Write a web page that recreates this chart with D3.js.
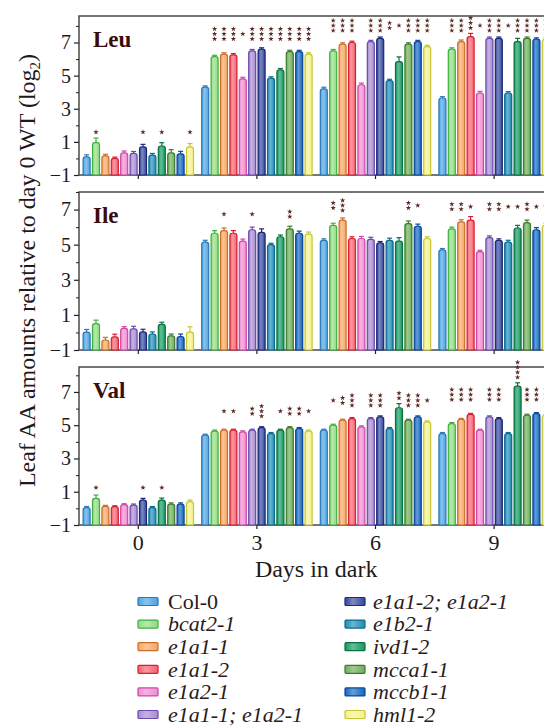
<!DOCTYPE html>
<html><head><meta charset="utf-8">
<script src="https://cdn.jsdelivr.net/npm/d3@7"></script>
<style>body{margin:0;background:#fff}svg{display:block}</style>
</head><body><svg id="c" width="544" height="728"></svg>
<script>
// ---------------- data ----------------
const days = ["0", "3", "6", "9"];
const genotypes = ["Col-0", "bcat2-1", "e1a1-1", "e1a1-2", "e1a2-1", "e1a1-1; e1a2-1",
  "e1a1-2; e1a2-1", "e1b2-1", "ivd1-2", "mcca1-1", "mccb1-1", "hml1-2"];
const yTicks = [-1, 1, 3, 5, 7];
const yMinorTicks = [0, 2, 4, 6, 8];

// values per day (rows: day 0, 3, 6, 9; columns: genotypes)
const leuValues = [
  [0.1, 0.95, 0.15, 0.0, 0.33, 0.3, 0.7, 0.2, 0.75, 0.33, 0.28, 0.7],
  [4.3, 6.15, 6.3, 6.25, 4.8, 6.5, 6.6, 4.85, 5.35, 6.45, 6.45, 6.3],
  [4.2, 6.5, 6.9, 7.0, 4.45, 7.05, 7.25, 4.7, 5.85, 6.9, 7.05, 6.75],
  [3.65, 6.6, 7.05, 7.35, 3.95, 7.25, 7.25, 3.95, 7.05, 7.25, 7.2, 7.2]
];
const leuErrors = [
  [0.12, 0.28, 0.1, 0.08, 0.12, 0.12, 0.15, 0.1, 0.2, 0.2, 0.15, 0.2],
  [0.08, 0.08, 0.08, 0.08, 0.1, 0.08, 0.08, 0.08, 0.08, 0.08, 0.08, 0.08],
  [0.1, 0.08, 0.08, 0.08, 0.1, 0.08, 0.08, 0.08, 0.28, 0.08, 0.08, 0.08],
  [0.08, 0.08, 0.1, 0.2, 0.1, 0.08, 0.08, 0.08, 0.2, 0.08, 0.08, 0.08]
];
const leuStars = [
  [0, 1, 0, 0, 0, 0, 1, 0, 1, 0, 0, 1],
  [0, 3, 3, 3, 1, 3, 3, 3, 3, 3, 3, 3],
  [0, 3, 3, 3, 0, 3, 3, 2, 1, 3, 3, 3],
  [0, 3, 3, 3, 1, 3, 3, 1, 3, 3, 3, 3]
];

const ileValues = [
  [0.02, 0.5, -0.43, -0.25, 0.23, 0.2, 0.03, -0.09, 0.46, -0.19, -0.24, 0.02],
  [5.15, 5.65, 5.8, 5.65, 5.2, 5.85, 5.7, 5.0, 5.45, 5.9, 5.65, 5.6],
  [5.25, 6.1, 6.4, 5.35, 5.35, 5.3, 5.1, 5.25, 5.2, 6.2, 6.05, 5.35],
  [4.7, 5.9, 6.3, 6.4, 4.6, 5.4, 5.25, 5.15, 5.95, 6.25, 5.85, 6.1]
];
const ileErrors = [
  [0.15, 0.2, 0.15, 0.15, 0.1, 0.15, 0.15, 0.12, 0.12, 0.1, 0.15, 0.3],
  [0.1, 0.15, 0.15, 0.15, 0.12, 0.15, 0.2, 0.08, 0.1, 0.15, 0.12, 0.12],
  [0.08, 0.12, 0.12, 0.1, 0.12, 0.12, 0.08, 0.12, 0.2, 0.15, 0.12, 0.1],
  [0.08, 0.1, 0.12, 0.2, 0.08, 0.1, 0.08, 0.1, 0.15, 0.15, 0.12, 0.12]
];
const ileStars = [
  [0, 0, 0, 0, 0, 0, 0, 0, 0, 0, 0, 0],
  [0, 0, 1, 0, 0, 1, 0, 0, 0, 2, 0, 0],
  [0, 2, 3, 0, 0, 0, 0, 0, 0, 2, 1, 0],
  [0, 2, 2, 1, 0, 2, 2, 1, 1, 2, 1, 1]
];

const valValues = [
  [0.05, 0.6, 0.12, 0.1, 0.22, 0.2, 0.5, 0.05, 0.5, 0.25, 0.25, 0.4],
  [4.4, 4.65, 4.7, 4.7, 4.6, 4.7, 4.85, 4.5, 4.7, 4.85, 4.8, 4.65],
  [4.7, 5.0, 5.3, 5.4, 4.9, 5.4, 5.5, 4.8, 6.05, 5.3, 5.5, 5.2],
  [4.5, 5.1, 5.35, 5.65, 4.7, 5.5, 5.4, 4.5, 7.35, 5.6, 5.7, 5.6]
];
const valErrors = [
  [0.06, 0.2, 0.06, 0.06, 0.06, 0.06, 0.1, 0.06, 0.12, 0.08, 0.08, 0.1],
  [0.06, 0.06, 0.06, 0.06, 0.06, 0.06, 0.06, 0.06, 0.06, 0.06, 0.06, 0.06],
  [0.06, 0.06, 0.06, 0.06, 0.06, 0.06, 0.06, 0.06, 0.25, 0.06, 0.06, 0.06],
  [0.06, 0.06, 0.06, 0.06, 0.06, 0.06, 0.06, 0.06, 0.2, 0.06, 0.06, 0.06]
];
const valStars = [
  [0, 1, 0, 0, 0, 0, 1, 0, 1, 0, 0, 0],
  [0, 0, 1, 1, 0, 2, 3, 0, 1, 2, 2, 1],
  [0, 1, 2, 3, 0, 3, 3, 0, 2, 3, 3, 1],
  [0, 3, 3, 3, 0, 3, 3, 0, 4, 3, 3, 3]
];

// ---------------- styles ----------------
const fillColors = ["#4aa3e0", "#90dc80", "#f5a560", "#f5606e", "#f08ad0", "#a88ad0",
  "#34489c", "#1e8cb4", "#129a60", "#6cae58", "#1466c0", "#f2f28c"];
const strokeColors = ["#2c77b8", "#3db040", "#c8702a", "#d81e30", "#cc48a6", "#6a48b0",
  "#1a2878", "#0c6a90", "#0a7040", "#3d7a2e", "#0a469a", "#c6c636"];
const italic = genotypes.map(g => g !== "Col-0");

const panels = [
  { name: "Leu", values: leuValues, errors: leuErrors, stars: leuStars, yMax: 8.6, top: 16, bottom: 175 },
  { name: "Ile", values: ileValues, errors: ileErrors, stars: ileStars, yMax: 8.0, top: 192, bottom: 350 },
  { name: "Val", values: valValues, errors: valErrors, stars: valStars, yMax: 8.5, top: 367, bottom: 525 }
];

const FONT = "'Liberation Serif', 'Times New Roman', serif";
const left = 79, right = 553.4;
const svg = d3.select("#c");

// gradients
const defs = svg.append("defs");
genotypes.forEach((g, i) => {
  const lg = defs.append("linearGradient").attr("id", "g" + i)
    .attr("x1", "0%").attr("x2", "100%").attr("y1", "0%").attr("y2", "0%");
  const light = d3.interpolateRgb(fillColors[i], "#ffffff")(0.35);
  lg.append("stop").attr("offset", "0%").attr("stop-color", fillColors[i]);
  lg.append("stop").attr("offset", "40%").attr("stop-color", light);
  lg.append("stop").attr("offset", "100%").attr("stop-color", fillColors[i]);
});

const x0 = d3.scaleBand().domain(days).range([left, right]).padding(0);
const x1 = d3.scaleBand().domain(genotypes).range([0, x0.bandwidth()])
  .paddingInner(0.255).paddingOuter(0.437);

function barPath(x, yb, yt, w, r) {
  r = Math.min(r, (yb - yt));
  return `M${x},${yb}L${x},${yt + r}Q${x},${yt} ${x + r},${yt}L${x + w - r},${yt}Q${x + w},${yt} ${x + w},${yt + r}L${x + w},${yb}Z`;
}

const starSym = d3.symbol().type(d3.symbolStar).size(9);
const halfH = n => (n - 1) * 2.5 + 2.5;

panels.forEach((p, pi) => {
  const y = d3.scaleLinear().domain([-1, p.yMax]).range([p.bottom, p.top]);
  const g = svg.append("g");

  // frame
  g.append("rect").attr("x", left).attr("y", p.top)
    .attr("width", right - left).attr("height", p.bottom - p.top)
    .attr("fill", "none").attr("stroke", "#4a4a4a").attr("stroke-width", 1.5);

  // y axis major
  const ya = g.append("g").attr("transform", `translate(${left},0)`)
    .call(d3.axisLeft(y).tickValues(yTicks).tickSize(5).tickPadding(3).tickFormat(d3.format("d")));
  ya.select(".domain").remove();
  ya.selectAll("line").attr("stroke", "#222").attr("stroke-width", 1.2);
  ya.selectAll("text").attr("font-family", FONT).attr("font-size", 20).attr("fill", "#1a1a1a");
  // y axis minor
  const ym = g.append("g").attr("transform", `translate(${left},0)`)
    .call(d3.axisLeft(y).tickValues(yMinorTicks.filter(v => v <= p.yMax)).tickSize(3).tickFormat(""));
  ym.select(".domain").remove();
  ym.selectAll("line").attr("stroke", "#222").attr("stroke-width", 1);

  // x axis
  const xa = g.append("g").attr("transform", `translate(0,${p.bottom})`)
    .call(d3.axisBottom(x0).tickSize(4).tickPadding(5).tickFormat(pi === panels.length - 1 ? (d => d) : ""));
  xa.select(".domain").remove();
  xa.selectAll("line").attr("stroke", "#222").attr("stroke-width", 1.2);
  xa.selectAll("text").attr("font-family", FONT).attr("font-size", 22).attr("fill", "#1a1a1a");

  // panel label
  g.append("text").attr("x", 93).attr("y", p.top + 30.5).text(p.name)
    .attr("font-family", FONT).attr("font-weight", "bold").attr("font-size", 23).attr("fill", "#3a0c0c");

  days.forEach((d, di) => {
    const vals = p.values[di], errs = p.errors[di], st = p.stars[di];
    const gg = g.append("g").attr("transform", `translate(${x0(d)},0)`);
    const bw = x1.bandwidth();
    genotypes.forEach((gen, i) => {
      const bx = x1(gen);
      const yt = y(vals[i]), ye = y(vals[i] + errs[i]);
      gg.append("line").attr("x1", bx + bw / 2).attr("x2", bx + bw / 2).attr("y1", yt).attr("y2", ye)
        .attr("stroke", strokeColors[i]).attr("stroke-width", 1.2);
      gg.append("line").attr("x1", bx + bw / 2 - 2.5).attr("x2", bx + bw / 2 + 2.5).attr("y1", ye).attr("y2", ye)
        .attr("stroke", strokeColors[i]).attr("stroke-width", 1.2);
      gg.append("path").attr("d", barPath(bx, y(-1), yt, bw, 2.5))
        .attr("fill", `url(#g${i})`).attr("stroke", strokeColors[i]).attr("stroke-width", 1.2);
    });
    // significance stars
    const tops = vals.map((v, i) => v + errs[i]).slice().sort((a, b) => b - a);
    const maxCount = d3.max(st);
    if (maxCount > 0) {
      let c = y(tops[1]) - 8 - halfH(maxCount);
      c = Math.max(c, p.top + halfH(maxCount) + 2);
      genotypes.forEach((gen, i) => {
        const n = st[i];
        if (!n) return;
        const own = y(vals[i] + errs[i]) - 3 - halfH(n);
        const cc = Math.min(c, own);
        for (let k = 0; k < n; k++) {
          const sy = cc - halfH(n) + 2.5 + k * 5;
          gg.append("path").attr("d", starSym)
            .attr("transform", `translate(${x1(gen) + x1.bandwidth() / 2},${sy})`)
            .attr("fill", "#5a2a22");
        }
      });
    }
  });
});

// y-axis title
const ytl = svg.append("text").attr("transform", "translate(35,270.5) rotate(-90)")
  .attr("text-anchor", "middle").attr("font-family", FONT).attr("font-size", 24).attr("fill", "#1f1a1a");
ytl.append("tspan").text("Leaf AA amounts relative to day 0 WT (log");
ytl.append("tspan").text("2").attr("font-size", 15).attr("dy", 5);
ytl.append("tspan").text(")").attr("dy", -5);

// x-axis title
svg.append("text").attr("x", (left + right) / 2).attr("y", 577).attr("text-anchor", "middle")
  .attr("font-family", FONT).attr("font-size", 24).attr("fill", "#1f1a1a").text("Days in dark");

// legend
const legend = svg.append("g");
genotypes.forEach((gen, i) => {
  const col = Math.floor(i / 6), row = i % 6;
  const sx = col === 0 ? 138 : 345, tx = col === 0 ? 168 : 373;
  const cy = 601.5 + row * 22.6;
  legend.append("rect").attr("x", sx).attr("y", cy - 4).attr("width", 20).attr("height", 8).attr("rx", 1)
    .attr("fill", `url(#g${i})`).attr("stroke", strokeColors[i]).attr("stroke-width", 1.2);
  legend.append("text").attr("x", tx).attr("y", cy).attr("dy", "0.33em")
    .attr("font-family", FONT).attr("font-size", 22).attr("font-style", italic[i] ? "italic" : "normal")
    .attr("fill", "#2b1a1a").text(gen);
});
</script></body></html>
